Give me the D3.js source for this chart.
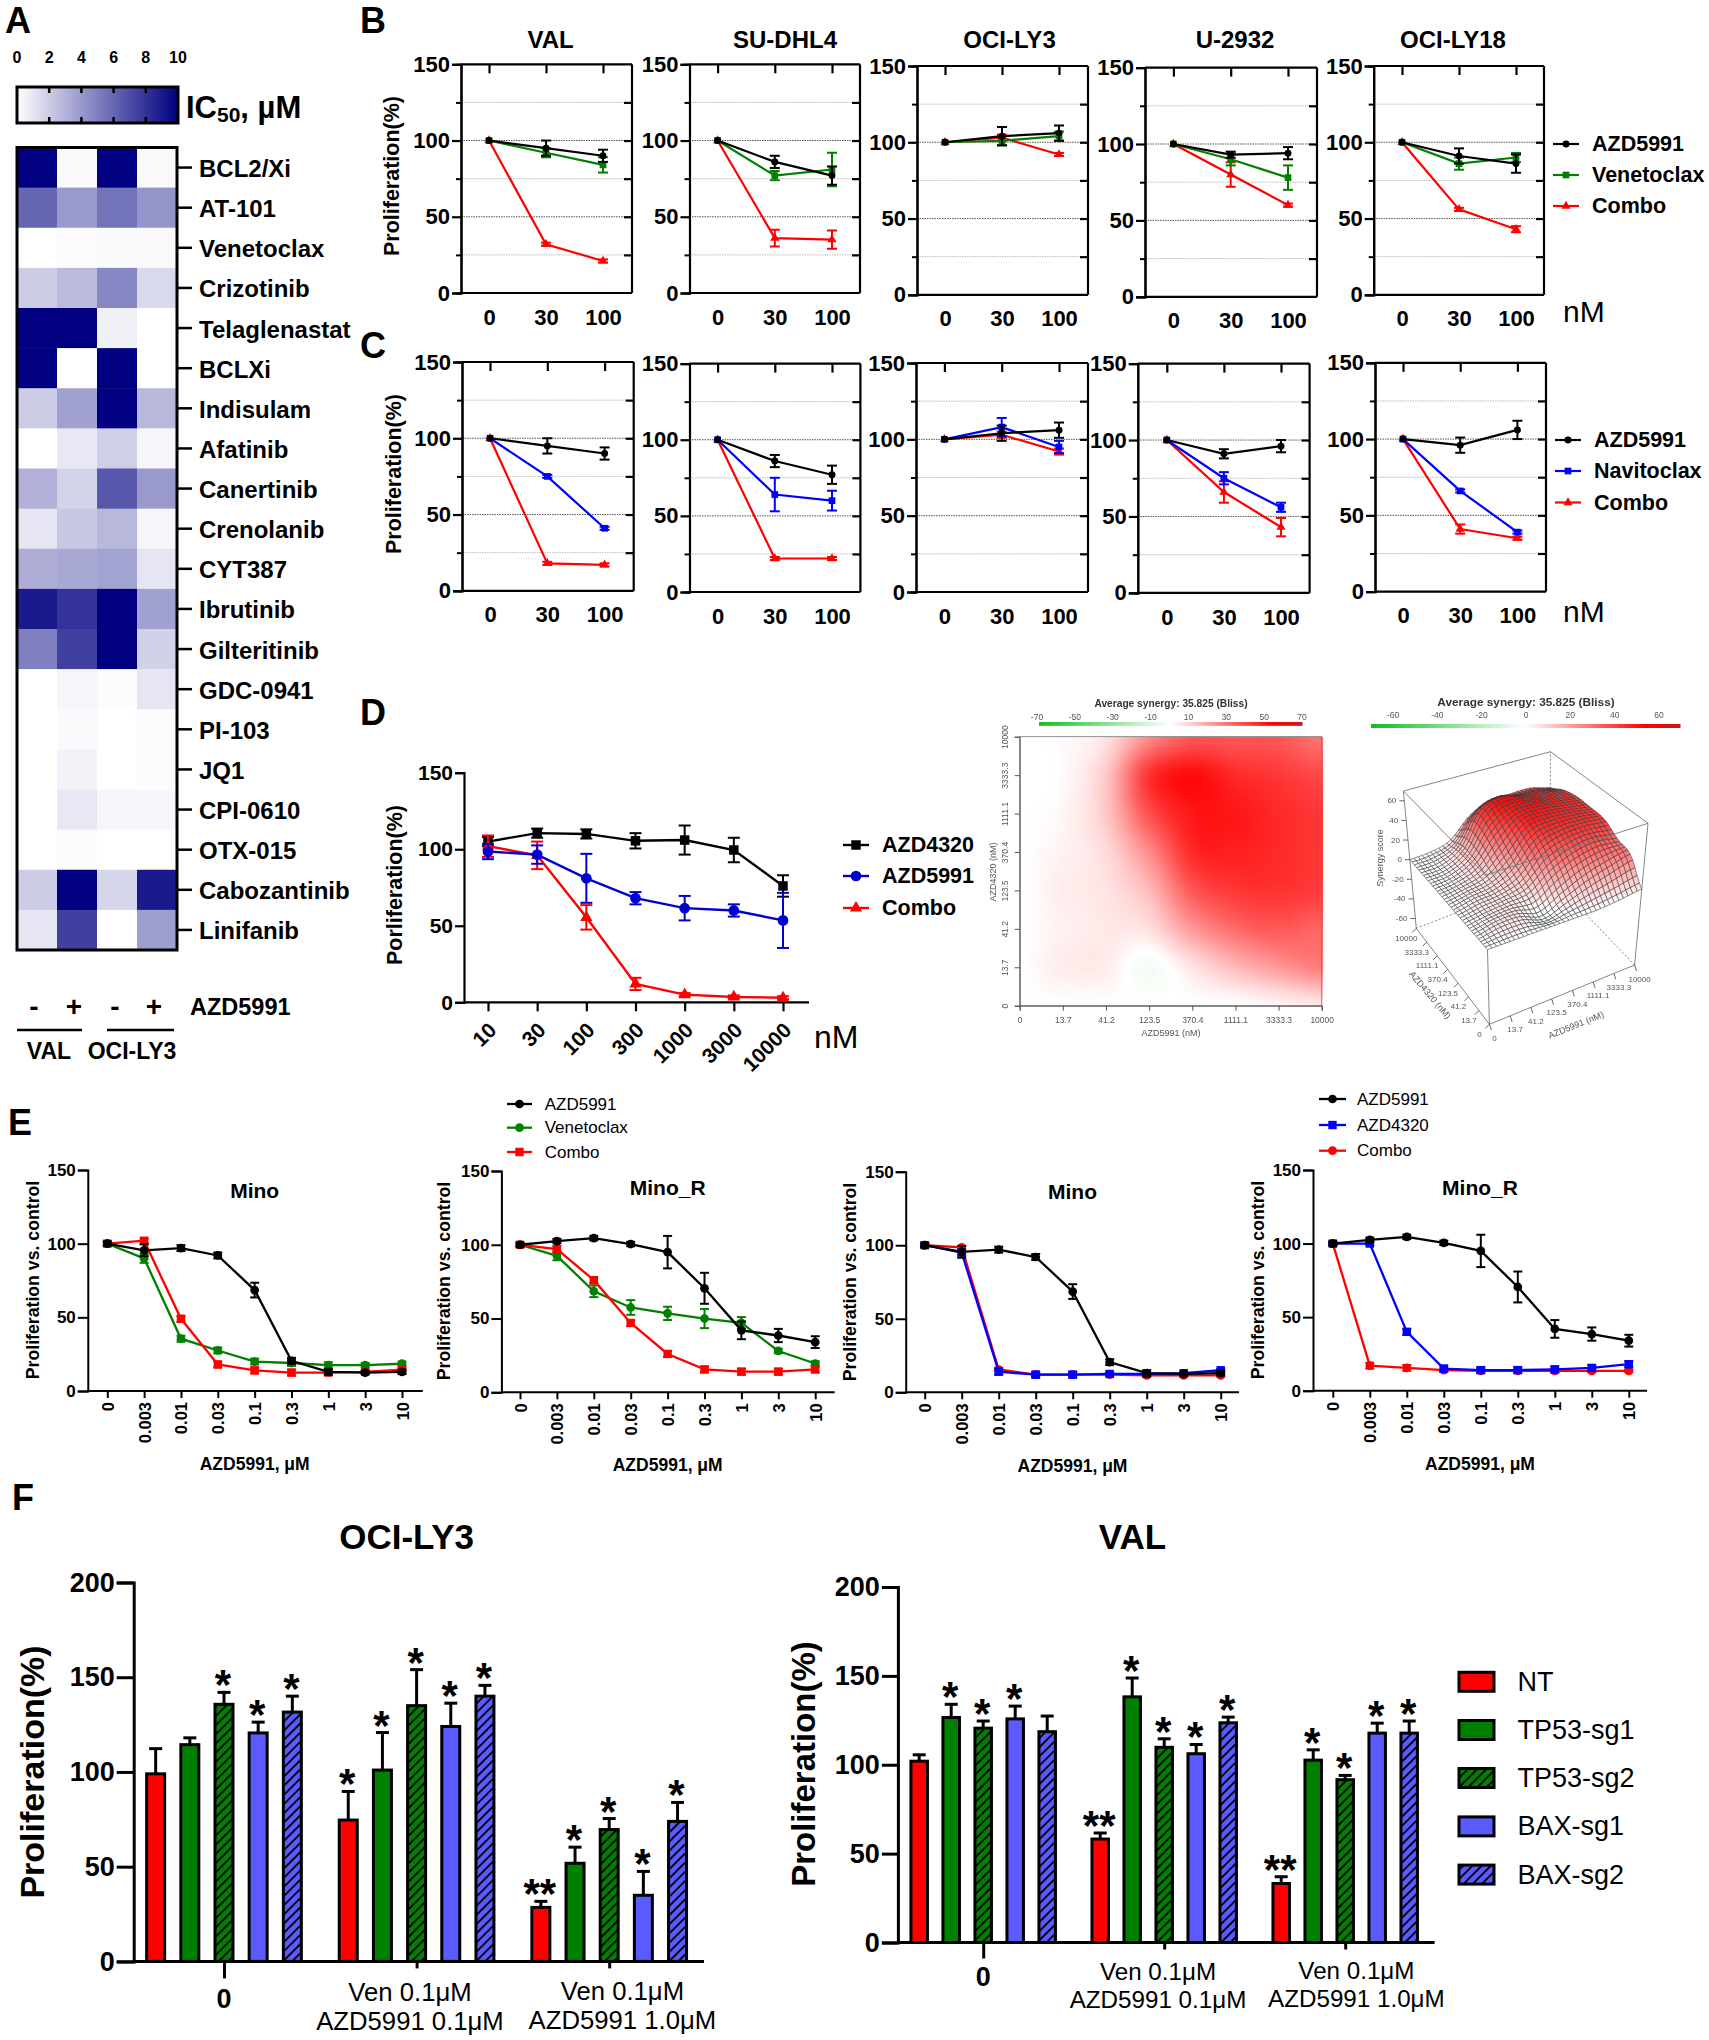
<!DOCTYPE html>
<html lang="en">
<head>
<meta charset="UTF-8">
<title>AZD5991 combination figure</title>
<script src="https://d3js.org/d3.v7.min.js"></script>
<style>
  body { margin: 0; background: #fff; }
  svg { display: block; font-family: "Liberation Sans", Arial, sans-serif; }
  .bold { font-weight: bold; }
</style>
</head>
<body>
<svg id="fig" width="1709" height="2040"></svg>
<script>
// ---- panel A
const drugs = ["BCL2/Xi","AT-101","Venetoclax","Crizotinib","Telaglenastat","BCLXi","Indisulam","Afatinib","Canertinib","Crenolanib","CYT387","Ibrutinib","Gilteritinib","GDC-0941","PI-103","JQ1","CPI-0610","OTX-015","Cabozantinib","Linifanib"];
const heatCols = ["VAL-","VAL+","OCI-","OCI+"];
const valMinus = [10,6,0,2,10,10,2,0,3.1,1,3.2,9,5,0,0,0,0,0,2,1];
const valPlus  = [0.2,4,0.1,2.7,10,0,3.7,0.9,1.7,2.2,3.4,8,7.5,0.4,0.2,0.5,0.9,0.1,10,7.5];
const ociMinus = [10,5.5,0.2,4.7,0.6,10,10,1.9,6.6,2.8,3.6,10,10,0.1,0,0,0.3,0,1.6,0];
const ociPlus  = [0.2,4.2,0.2,1.5,0,0,2.8,0.4,4,0.4,1,3.7,1.8,1,0.1,0.1,0.3,0,9,3.8];
const ic50Ticks = [0,2,4,6,8,10];

// ---- panels B and C, one row per cell line
const bcLines = ["VAL","SU-DHL4","OCI-LY3","U-2932","OCI-LY18"];
const nmDoses = ["0","30","100"];
const bAzd = [[100,95,90],[100,86,77],[100,104,106],[100,93,94],[100,91,86]];
const bAzdErr = [[0,5,4],[0,4,6],[0,6,5],[0,2,4],[0,5,6]];
const bVen = [[100,92,84],[100,77,81],[100,101,104],[100,90,78],[100,86,90]];
const bVenErr = [[0,3,5],[0,3,11],[0,3,3],[0,4,8],[0,4,3]];
const bCombo = [[100,32,21],[100,36,35],[100,103,92],[100,80,60],[100,56,43]];
const bComboErr = [[0,1,1],[0,5.5,6],[0,2,1],[0,8,1],[0,1,2]];
const cAzd = [[100,95,90],[100,86,77],[100,104,106],[100,91,96],[100,96,106]];
const cAzdErr = [[0,5,4],[0,4,6],[0,5,5],[0,3,4],[0,5,6]];
const cNav = [[100,75,41],[100,64,60],[100,108,95],[100,75,56],[100,66,39]];
const cNavErr = [[0,1,1],[0,11,6.5],[0,6,4],[0,4,3],[0,1,1]];
const cCombo = [[100,18,17],[100,22,22],[100,103,92],[100,66,43],[100,41,35]];
const cComboErr = [[0,1,1],[0,1,1],[0,2,2],[0,7,6],[0,3,1]];

// ---- panel D
const dDoses = ["10","30","100","300","1000","3000","10000"];
const dAzd4320 = [105,110.5,110,105.5,106,99.5,76];
const dAzd4320Err = [3,3,3,5,9.5,8,7];
const dAzd5991 = [98.5,96.5,81,68,61.5,60,53.5];
const dAzd5991Err = [5,6,16,4,8,4,18];
const dCombo = [102,96,55.5,12,5,3.5,3];
const dComboErr = [7,9,8,4,1,1,1];

// synergy map read at the dose grid, first row is AZD4320 = 0, first column AZD5991 = 0
const synergyDoses = ["0","13.7","41.2","123.5","370.4","1111.1","3333.3","10000"];
const synergyGrid = [
  [0,0,0,0,0,0,2,5],
  [0,4,4,-3,6,15,22,28],
  [0,3,5,7,22,32,36,33],
  [0,4,6,15,36,43,44,42],
  [0,3,8,25,46,48,46,43],
  [0,2,12,38,50,50,46,43],
  [0,1,12,44,52,46,43,39],
  [0,1,6,25,36,36,36,30]
];
const synergyBarLeft = [-70,-50,-30,-10,10,30,50,70];
const synergyBarRight = [-60,-40,-20,0,20,40,60];
const synergyZ = [-60,-40,-20,0,20,40,60];

// ---- panel E
const uMDoses = ["0","0.003","0.01","0.03","0.1","0.3","1","3","10"];
const eMinoAzd = [100,95.5,97,92,68.5,20.5,13,12.5,13];
const eMinoAzdErr = [1.5,4,2,2,5,2,2,1,1.5];
const eMinoVen = [100,90,35.5,27.5,20,19,17.5,17.5,18.5];
const eMinoVenErr = [1,3,2,2,2,2,2,1.5,1.5];
const eMinoCombo = [100,102,49,18,14,12.5,12.5,13,14.5];
const eMinoComboErr = [1.5,1.5,2,2,2,2,1,1,1];
const eMinoRAzd = [100,102.5,104.5,100.5,95,70.5,42,38.5,34];
const eMinoRAzdErr = [1.5,1.5,1.5,1.5,11,10.5,6,4.5,4];
const eMinoRVen = [100,92.5,68.5,57.5,53.5,50,47,28,19.5];
const eMinoRVenErr = [1,3,4,5,4.5,6.5,4,1.5,1.5];
const eMinoRCombo = [100,97,76,47,26,15.5,14,14,15.5];
const eMinoRComboErr = [1,2,2,2,2,2,2,2,2];
const eMino4320 = [100,95,14,12,12,12.5,12.5,13,15];
const eMino4320Err = [1,2,2,2,2,1,1,1,1];
const eMino4320Combo = [100,98.5,15.5,12,12,12,11.5,11.5,11.5];
const eMino4320ComboErr = [1,1,1,1,1,1,1,1,1];
const eMinoR4320 = [100,100,40,15,14,14,14.5,15.5,18];
const eMinoR4320Err = [1,1,2,2,2,2,2,2,2];
const eMinoR4320Combo = [100,17,15.5,14,13.5,13.5,13.5,13.5,13.5];
const eMinoR4320ComboErr = [1,2,2,1,1,1,1,1,1];

// ---- panel F
const sgGroups = ["0","Ven01","Ven10"];
const sgNames = ["NT","TP53-sg1","TP53-sg2","BAX-sg1","BAX-sg2"];
const ociBars = [[99,114.4,135.7,120.6,131.6],[74.6,101,135,124,140],[28.5,51.8,69.6,34.9,73.9]];
const ociTops = [[112.3,118,142,126.3,140],[89.7,120.8,154,136.3,145.7],[31.7,60.3,75.4,47.5,83.9]];
const ociStars = [["","","*","*","*"],["*","*","*","*","*"],["**","*","*","*","*"]];
const valBars = [[102,126.6,120.6,125.8,118.6],[58.2,138.2,109.8,106.2,123.6],[33.2,102.6,91.6,117.8,117.8]];
const valTops = [[105.6,134,124.6,133,127.4],[61.6,148.8,114.6,111.4,126.8],[37,108.4,94,123.4,124.6]];
const valStars = [["","*","*","*",""],["**","*","*","*","*"],["**","*","*","*","*"]];

const BLACK = "#000", GREEN = "#008000", RED = "#ff0000", BLUE = "#0000ff", BAXBLUE = "#5a5aff";

const svg = d3.select("#fig");

function txt(g, x, y, s, size, opts) {
  opts = opts || {};
  const t = g.append("text")
    .attr("x", x).attr("y", y)
    .attr("font-size", size)
    .attr("dominant-baseline", "central")
    .attr("text-anchor", opts.anchor || "start")
    .attr("fill", opts.fill || "#000")
    .text(s);
  if (opts.bold) t.attr("font-weight", "bold");
  if (opts.rotate !== undefined) {
    t.attr("transform", "rotate(" + opts.rotate + " " + x + " " + y + ")");
  }
  return t;
}

function styleAxis(sel, width, fontSize) {
  sel.selectAll("path,line").attr("stroke", "#000").attr("stroke-width", width);
  sel.selectAll("text").attr("font-size", fontSize).attr("font-weight", "bold")
    .attr("font-family", "Liberation Sans").attr("fill", "#000");
}

// line + error bars + markers for one series
function drawSeries(g, x, y, labels, vals, errs, s) {
  const line = d3.line().x((d, i) => x(labels[i])).y(d => y(d));
  g.append("path").attr("d", line(vals)).attr("fill", "none")
    .attr("stroke", s.color).attr("stroke-width", s.lw);
  labels.forEach((lab, i) => {
    if (!errs[i]) return;
    const cx = x(lab), hi = y(vals[i] + errs[i]), lo = y(vals[i] - errs[i]);
    [[cx, hi, cx, lo], [cx - s.cap, hi, cx + s.cap, hi], [cx - s.cap, lo, cx + s.cap, lo]].forEach(p => {
      g.append("line").attr("x1", p[0]).attr("y1", p[1]).attr("x2", p[2]).attr("y2", p[3])
        .attr("stroke", s.color).attr("stroke-width", s.elw || 2);
    });
  });
  g.selectAll(null).data(vals).enter().append("path")
    .attr("d", d3.symbol().type(s.symbol).size(s.size))
    .attr("transform", (d, i) => "translate(" + x(labels[i]) + "," + y(d) + ")")
    .attr("fill", s.color);
}

function legendRows(g, rows, lx0, lx1, ys, tx, size, bold) {
  rows.forEach((r, i) => {
    g.append("line").attr("x1", lx0).attr("x2", lx1).attr("y1", ys[i]).attr("y2", ys[i])
      .attr("stroke", r.color).attr("stroke-width", r.lw);
    g.append("path").attr("d", d3.symbol().type(r.symbol).size(r.size))
      .attr("transform", "translate(" + (lx0 + lx1) / 2 + "," + ys[i] + ")").attr("fill", r.color);
    txt(g, tx, ys[i], r.name, size, { bold: bold });
  });
}

// ---- panel A
(function () {
  const g = svg.append("g");
  txt(g, 5, 20, "A", 36, { bold: true });
  const cb = d3.scaleLinear().domain([0, 10]).range([17, 178]);
  const heatColor = d3.scaleLinear().domain([0, 10]).range(["#ffffff", "#000080"]);
  const grad = svg.append("defs").append("linearGradient").attr("id", "icGrad");
  grad.append("stop").attr("offset", "0%").attr("stop-color", heatColor(0));
  grad.append("stop").attr("offset", "100%").attr("stop-color", heatColor(10));
  g.append("rect").attr("x", 17).attr("y", 87).attr("width", 161).attr("height", 36)
    .attr("fill", "url(#icGrad)").attr("stroke", "#000").attr("stroke-width", 3);
  ic50Ticks.forEach(t => {
    txt(g, cb(t), 57, t, 16, { bold: true, anchor: "middle" });
    if (t > 0 && t < 10) {
      g.append("line").attr("x1", cb(t)).attr("x2", cb(t)).attr("y1", 87).attr("y2", 93).attr("stroke", "#000").attr("stroke-width", 2.5);
      g.append("line").attr("x1", cb(t)).attr("x2", cb(t)).attr("y1", 117).attr("y2", 123).attr("stroke", "#000").attr("stroke-width", 2.5);
    }
  });
  const ic = txt(g, 186, 107, "IC", 31, { bold: true });
  ic.append("tspan").attr("font-size", 21).attr("dy", 7).text("50");
  ic.append("tspan").attr("dy", -7).text(", µM");

  const xb = d3.scaleBand().domain(heatCols).range([17, 177]);
  const yb = d3.scaleBand().domain(drugs).range([147.5, 950]);
  [valMinus, valPlus, ociMinus, ociPlus].forEach((col, c) => {
    g.selectAll(null).data(col).enter().append("rect")
      .attr("x", xb(heatCols[c])).attr("width", xb.bandwidth() + 0.5)
      .attr("y", (d, i) => yb(drugs[i])).attr("height", yb.bandwidth() + 0.5)
      .attr("fill", d => heatColor(d));
  });
  g.append("rect").attr("x", 17).attr("y", 147.5).attr("width", 160).attr("height", 802.5)
    .attr("fill", "none").attr("stroke", "#000").attr("stroke-width", 3);
  drugs.forEach(d => {
    const y0 = yb(d) + yb.bandwidth() / 2;
    g.append("line").attr("x1", 178).attr("x2", 192).attr("y1", y0).attr("y2", y0).attr("stroke", "#000").attr("stroke-width", 2.5);
    txt(g, 199, y0 + 1, d, 24, { bold: true });
  });
  ["-", "+", "-", "+"].forEach((s, i) => {
    txt(g, [34, 74, 115, 154][i], 1006, s, 28, { bold: true, anchor: "middle" });
  });
  txt(g, 190, 1007, "AZD5991", 23.5, { bold: true });
  [[17, 82], [107, 174]].forEach(p => {
    g.append("line").attr("x1", p[0]).attr("x2", p[1]).attr("y1", 1030).attr("y2", 1030).attr("stroke", "#000").attr("stroke-width", 2.5);
  });
  txt(g, 49, 1051, "VAL", 23, { bold: true, anchor: "middle" });
  txt(g, 132, 1051, "OCI-LY3", 23, { bold: true, anchor: "middle" });
})();

// ---- panels B, C
function framedPanel(f, series) {
  const g = svg.append("g");
  const x = d3.scalePoint().domain(nmDoses).range([f.p0, f.p2]);
  const y = d3.scaleLinear().domain([0, 150]).range([f.bottom, f.top]);
  [25, 50, 75, 100, 125].forEach(v => {
    g.append("line").attr("x1", f.left).attr("x2", f.right).attr("y1", y(v)).attr("y2", y(v))
      .attr("stroke", v % 50 ? "#bbb" : "#555").attr("stroke-width", 1).attr("stroke-dasharray", "1.5,1");
  });
  const left = g.append("g").attr("transform", "translate(" + f.left + ",0)")
    .call(d3.axisLeft(y).tickValues([0, 50, 100, 150]).tickSize(9).tickPadding(2));
  styleAxis(left, 2.2, 22);
  const minor = g.append("g").attr("transform", "translate(" + f.left + ",0)")
    .call(d3.axisLeft(y).tickValues([25, 75, 125]).tickSize(5).tickFormat(""));
  styleAxis(minor, 2, 1);
  const right = g.append("g").attr("transform", "translate(" + f.right + ",0)")
    .call(d3.axisLeft(y).tickValues([25, 50, 75, 100, 125]).tickSize(8).tickFormat(""));
  styleAxis(right, 2.2, 1);
  right.select(".domain").attr("d", "M0," + f.top + "V" + f.bottom);
  const bottom = g.append("g").attr("transform", "translate(0," + f.bottom + ")")
    .call(d3.axisBottom(x).tickSize(0).tickPadding(16));
  styleAxis(bottom, 2.2, 22);
  bottom.select(".domain").attr("d", "M" + f.left + ",0H" + f.right);
  const top = g.append("g").attr("transform", "translate(0," + f.top + ")")
    .call(d3.axisBottom(x).tickSize(9).tickFormat(""));
  styleAxis(top, 2.2, 1);
  top.select(".domain").attr("d", "M" + f.left + ",0H" + f.right);
  series.forEach(s => drawSeries(g, x, y, nmDoses, s.vals, s.errs, s));
}

const sAzd = { color: BLACK, symbol: d3.symbolCircle, size: 38, lw: 2.2, cap: 5 };
const sVen = { color: GREEN, symbol: d3.symbolSquare, size: 45, lw: 2.2, cap: 5 };
const sNav = { color: BLUE, symbol: d3.symbolSquare, size: 45, lw: 2.2, cap: 5 };
const sCombo = { color: RED, symbol: d3.symbolTriangle, size: 36, lw: 2.2, cap: 5 };

const bFrames = [
  { left: 461, right: 632, top: 64.3, bottom: 293, p0: 489, p2: 603 },
  { left: 689.5, right: 860, top: 64.3, bottom: 293, p0: 717.6, p2: 832 },
  { left: 917, right: 1088, top: 66, bottom: 294.8, p0: 945, p2: 1059 },
  { left: 1145, right: 1317, top: 67.6, bottom: 296.8, p0: 1173.4, p2: 1288 },
  { left: 1373.7, right: 1544, top: 66, bottom: 294.8, p0: 1402, p2: 1516 }
];
const cFrames = [
  { left: 462, right: 633.7, top: 362, bottom: 590.8, p0: 490, p2: 604.6 },
  { left: 689.5, right: 860.4, top: 363.6, bottom: 592, p0: 717.6, p2: 832 },
  { left: 916, right: 1088, top: 363, bottom: 592, p0: 944.4, p2: 1059 },
  { left: 1137.8, right: 1309.6, top: 363.6, bottom: 592.9, p0: 1166.8, p2: 1281 },
  { left: 1375, right: 1546, top: 362.8, bottom: 591.6, p0: 1403, p2: 1517.4 }
];
const titleX = [550.6, 785, 1009.5, 1235, 1453];

bFrames.forEach((f, i) => {
  framedPanel(f, [
    Object.assign({ vals: bCombo[i], errs: bComboErr[i] }, sCombo),
    Object.assign({ vals: bVen[i], errs: bVenErr[i] }, sVen),
    Object.assign({ vals: bAzd[i], errs: bAzdErr[i] }, sAzd)
  ]);
  txt(svg, titleX[i], 39, bcLines[i], 24, { bold: true, anchor: "middle" });
});
cFrames.forEach((f, i) => {
  framedPanel(f, [
    Object.assign({ vals: cCombo[i], errs: cComboErr[i] }, sCombo),
    Object.assign({ vals: cNav[i], errs: cNavErr[i] }, sNav),
    Object.assign({ vals: cAzd[i], errs: cAzdErr[i] }, sAzd)
  ]);
});
txt(svg, 360, 20, "B", 36, { bold: true });
txt(svg, 360, 345, "C", 36, { bold: true });
txt(svg, 392, 176, "Proliferation(%)", 21.5, { bold: true, anchor: "middle", rotate: -90 });
txt(svg, 394, 474, "Proliferation(%)", 21.5, { bold: true, anchor: "middle", rotate: -90 });
txt(svg, 1563, 311, "nM", 30);
txt(svg, 1563, 611, "nM", 30);
legendRows(svg, [
  Object.assign({ name: "AZD5991" }, sAzd),
  Object.assign({ name: "Venetoclax" }, sVen),
  Object.assign({ name: "Combo" }, sCombo)
], 1553, 1579, [144, 175, 206], 1592, 21.5, true);
legendRows(svg, [
  Object.assign({ name: "AZD5991" }, sAzd),
  Object.assign({ name: "Navitoclax" }, sNav),
  Object.assign({ name: "Combo" }, sCombo)
], 1555, 1581, [440, 471, 502.5], 1594, 21.5, true);

// ---- panel D, dose response
(function () {
  const g = svg.append("g");
  txt(g, 360, 712, "D", 36, { bold: true });
  const x = d3.scalePoint().domain(dDoses).range([488, 783]);
  const y = d3.scaleLinear().domain([0, 150]).range([1002.3, 772.7]);
  const ax = g.append("g").attr("transform", "translate(464,0)")
    .call(d3.axisLeft(y).tickValues([0, 50, 100, 150]).tickSize(9).tickPadding(2));
  styleAxis(ax, 2.2, 21);
  const bx = g.append("g").attr("transform", "translate(0,1002.3)")
    .call(d3.axisBottom(x).tickSize(9));
  styleAxis(bx, 2.2, 21);
  bx.select(".domain").attr("d", "M464,0H809");
  bx.selectAll("text").attr("text-anchor", "end").attr("dy", 0).attr("y", 0)
    .attr("transform", "translate(4,24) rotate(-45)").attr("dominant-baseline", "central");
  const st4320 = { color: BLACK, symbol: d3.symbolSquare, size: 90, lw: 2.4, cap: 6 };
  const st5991 = { color: "#0000d0", symbol: d3.symbolCircle, size: 90, lw: 2.4, cap: 6 };
  const stCombo = { color: RED, symbol: d3.symbolTriangle, size: 65, lw: 2.4, cap: 6 };
  drawSeries(g, x, y, dDoses, dAzd4320, dAzd4320Err, st4320);
  drawSeries(g, x, y, dDoses, dCombo, dComboErr, stCombo);
  drawSeries(g, x, y, dDoses, dAzd5991, dAzd5991Err, st5991);
  txt(g, 395, 885, "Porliferation(%)", 21.5, { bold: true, anchor: "middle", rotate: -90 });
  txt(g, 814, 1037, "nM", 32);
  legendRows(g, [
    Object.assign({ name: "AZD4320" }, st4320),
    Object.assign({ name: "AZD5991" }, st5991),
    Object.assign({ name: "Combo" }, stCombo)
  ], 843, 869, [845, 876, 908], 882, 21.5, true);
})();

// ---- panel D, synergy plots. The grid is smoothed for drawing, as the original software does
function cr(a, b, c, d, t) {
  return 0.5 * (2 * b + (c - a) * t + (2 * a - 5 * b + 4 * c - d) * t * t + (3 * b - a - 3 * c + d) * t * t * t);
}
function synergyAt(u, v) {
  const n = synergyGrid.length - 1;
  const clamp = k => Math.max(0, Math.min(n, k));
  const i0 = Math.min(n - 1, Math.floor(u)), j0 = Math.min(n - 1, Math.floor(v));
  const tu = u - i0, tv = v - j0;
  const row = j => {
    const r = synergyGrid[clamp(j)];
    return cr(r[clamp(i0 - 1)], r[clamp(i0)], r[clamp(i0 + 1)], r[clamp(i0 + 2)], tu);
  };
  return cr(row(j0 - 1), row(j0), row(j0 + 1), row(j0 + 2), tv);
}
const synergyColor = d3.scaleLinear().domain([-70, 0, 55, 70])
  .range(["#10c020", "#ffffff", "#ff0000", "#d01515"]).clamp(true);

function synergyBar(g, x0, x1, y0, h, ticks, tx0, tx1, labelY) {
  const c = d3.scaleLinear().domain([0, 60]).range([x0, x1]);
  g.selectAll(null).data(d3.range(60)).enter().append("rect")
    .attr("x", d => c(d)).attr("width", (x1 - x0) / 60 + 0.5).attr("y", y0).attr("height", h)
    .attr("fill", d => synergyColor(-70 + 140 * d / 59));
  const t = d3.scaleLinear().domain([ticks[0], ticks[ticks.length - 1]]).range([tx0, tx1]);
  ticks.forEach(v => txt(g, t(v), labelY, v, 8.5, { anchor: "middle", fill: "#555" }));
}

(function () {
  const g = svg.append("g").style("filter", "blur(0.35px)");
  const idx = d3.scaleLinear().domain([0, 7]);
  const xs = idx.copy().range([1019.7, 1321.7]);
  const ys = idx.copy().range([1005.7, 736.7]);
  const cell = 3;
  const cells = [];
  for (let px = 1019.7; px < 1321.7; px += cell) {
    for (let py = 736.7; py < 1005.7; py += cell) cells.push([px, py]);
  }
  g.selectAll(null).data(cells).enter().append("rect")
    .attr("x", d => d[0]).attr("y", d => d[1]).attr("width", cell + 0.4).attr("height", cell + 0.4)
    .attr("fill", d => synergyColor(synergyAt(xs.invert(d[0] + cell / 2), ys.invert(d[1] + cell / 2))));
  g.append("rect").attr("x", 1019.7).attr("y", 736.7).attr("width", 302).attr("height", 269)
    .attr("fill", "none").attr("stroke", "#777").attr("stroke-width", 0.8);
  const xa = d3.scalePoint().domain(synergyDoses).range([1019.7, 1321.7]);
  const ya = d3.scalePoint().domain(synergyDoses).range([1005.7, 736.7]);
  const bx = g.append("g").attr("transform", "translate(0,1005.7)").call(d3.axisBottom(xa).tickSize(5).tickPadding(6));
  bx.selectAll("line,path").attr("stroke", "#555");
  bx.selectAll("text").attr("font-size", 8.5).attr("fill", "#555").attr("font-family", "Liberation Sans");
  const ay = g.append("g").attr("transform", "translate(1019.7,0)").call(d3.axisLeft(ya).tickSize(5).tickPadding(6));
  ay.selectAll("line,path").attr("stroke", "#555");
  ay.selectAll("text").attr("font-size", 8.5).attr("fill", "#555").attr("font-family", "Liberation Sans")
    .attr("text-anchor", "middle").attr("dy", 0).attr("x", -15).attr("y", 0)
    .attr("dominant-baseline", "central")
    .attr("transform", "rotate(-90 -15 0)");
  txt(g, 1171, 1033, "AZD5991 (nM)", 9, { anchor: "middle", fill: "#555" });
  txt(g, 992.5, 872, "AZD4320 (nM)", 9, { anchor: "middle", fill: "#555", rotate: -90 });
  txt(g, 1171, 703.5, "Average synergy: 35.825 (Bliss)", 10.2, { anchor: "middle", bold: true, fill: "#333" });
  synergyBar(g, 1039, 1302, 722, 3.8, synergyBarLeft, 1037, 1302, 716.7);
})();

(function () {
  const g = svg.append("g").style("filter", "blur(0.35px)");
  // corners of the plot box on the page: floor F, top T, first digit AZD5991, second AZD4320
  const F00 = [1489.4, 1024.3], F10 = [1634.6, 965], F01 = [1416.3, 928.3], F11 = [1550, 876.7];
  const T00 = [1485.6, 875], T10 = [1648, 823.3], T01 = [1403.4, 791], T11 = [1550.5, 751.7];
  const mix = (a, b, t) => [a[0] + (b[0] - a[0]) * t, a[1] + (b[1] - a[1]) * t];
  function proj(u, v, w) {
    const fl = mix(mix(F00, F10, u), mix(F01, F11, u), v);
    const tp = mix(mix(T00, T10, u), mix(T01, T11, u), v);
    return mix(fl, tp, w);
  }
  const zs = d3.scaleLinear().domain([-70, 70]).range([0, 1]);
  const seg = (a, b, dash, col) => g.append("line").attr("x1", a[0]).attr("y1", a[1]).attr("x2", b[0]).attr("y2", b[1])
    .attr("stroke", col || "#777").attr("stroke-width", 0.9).attr("stroke-dasharray", dash || null);

  seg(F01, F11, "2,2"); seg(F10, F11, "2,2"); seg(F11, T11, "2,2");
  seg(T01, T11); seg(T11, T10); seg(F01, T01); seg(F10, T10);

  const n = 34;
  const quads = [];
  for (let a = n - 1; a >= 0; a--) {
    for (let b = n - 1; b >= 0; b--) quads.push([a, b]);
  }
  quads.sort((p, q) => (q[0] + q[1]) - (p[0] + p[1]));
  const zAt = (a, b) => synergyAt(a / n * 7, b / n * 7);
  const pt = (a, b) => proj(a / n, b / n, zs(zAt(a, b)));
  g.selectAll(null).data(quads).enter().append("path")
    .attr("d", d => d3.line()([pt(d[0], d[1]), pt(d[0] + 1, d[1]), pt(d[0] + 1, d[1] + 1), pt(d[0], d[1] + 1)]) + "Z")
    .attr("fill", d => synergyColor(zAt(d[0] + 0.5, d[1] + 0.5)))
    .attr("stroke", "#333").attr("stroke-width", 0.6).attr("stroke-opacity", 0.9);

  seg(T01, T00); seg(T00, T10);
  seg(F00, F10); seg(F00, F01); seg(F00, proj(0, 0, zs(0)));

  synergyZ.forEach(z => {
    const p = proj(0, 1, zs(z));
    seg(p, [p[0] - 5, p[1]], null, "#555");
    txt(g, p[0] - 8, p[1], z, 8, { anchor: "end", fill: "#555" });
  });
  synergyDoses.forEach((d, i) => {
    const p = proj(i / 7, 0, 0), q = proj(0, i / 7, 0);
    seg(p, [p[0] + 2, p[1] + 6], null, "#555");
    seg(q, [q[0] - 4, q[1] + 4], null, "#555");
    txt(g, p[0] + 5, p[1] + 14, d, 8, { anchor: "middle", fill: "#555" });
    txt(g, q[0] - 10, q[1] + 10, d, 8, { anchor: "middle", fill: "#555" });
  });
  txt(g, 1380, 858, "Synergy score", 9, { anchor: "middle", fill: "#555", rotate: -90 });
  txt(g, 1430, 995, "AZD4320 (nM)", 9, { anchor: "middle", fill: "#555", rotate: 50 });
  txt(g, 1576, 1025, "AZD5991 (nM)", 9, { anchor: "middle", fill: "#555", rotate: -22 });
  txt(g, 1526, 702, "Average synergy: 35.825 (Bliss)", 11.8, { anchor: "middle", bold: true, fill: "#333" });
  synergyBar(g, 1371, 1680, 724, 4, synergyBarRight, 1393, 1659, 715);
})();

// ---- panel E
function openPanel(p, series) {
  const g = svg.append("g");
  const x = d3.scalePoint().domain(uMDoses).range([p.p0, p.p8]);
  const y = d3.scaleLinear().domain([0, 150]).range([p.y0, p.y150]);
  const ax = g.append("g").attr("transform", "translate(" + p.axisX + ",0)")
    .call(d3.axisLeft(y).tickValues([0, 50, 100, 150]).tickSize(10).tickPadding(2));
  styleAxis(ax, 2, 17);
  const bx = g.append("g").attr("transform", "translate(0," + p.y0 + ")")
    .call(d3.axisBottom(x).tickSize(7));
  styleAxis(bx, 2, 16.5);
  bx.select(".domain").attr("d", "M" + p.axisX + ",0H" + p.end);
  bx.selectAll("text").attr("text-anchor", "end").attr("dy", 0).attr("y", 0)
    .attr("dominant-baseline", "central").attr("transform", "translate(0,11) rotate(-90)");
  series.forEach(s => drawSeries(g, x, y, uMDoses, s.vals, s.errs, s));
  txt(g, p.labelX, p.labelCy, "Proliferation vs. control", 17.7, { bold: true, anchor: "middle", rotate: -90 });
  txt(g, p.cx, p.titleY, p.title, 21, { bold: true, anchor: "middle" });
  txt(g, p.cx, p.xlabY, "AZD5991, μM", 17.5, { bold: true, anchor: "middle" });
}
const eAzd = { color: BLACK, symbol: d3.symbolCircle, size: 60, lw: 2.3, cap: 4.5 };
const eVen = { color: GREEN, symbol: d3.symbolCircle, size: 60, lw: 2.3, cap: 4.5 };
const eComboSq = { color: RED, symbol: d3.symbolSquare, size: 70, lw: 2.3, cap: 4.5 };
const e4320 = { color: BLUE, symbol: d3.symbolSquare, size: 70, lw: 2.3, cap: 4.5 };
const eComboC = { color: RED, symbol: d3.symbolCircle, size: 60, lw: 2.3, cap: 4.5 };

openPanel({ axisX: 87.8, y0: 1391, y150: 1170, end: 422.8, p0: 107.3, p8: 402, labelX: 32.5, labelCy: 1280, cx: 254.7, titleY: 1190, xlabY: 1464, title: "Mino" }, [
  Object.assign({ vals: eMinoVen, errs: eMinoVenErr }, eVen),
  Object.assign({ vals: eMinoCombo, errs: eMinoComboErr }, eComboSq),
  Object.assign({ vals: eMinoAzd, errs: eMinoAzdErr }, eAzd)
]);
openPanel({ axisX: 501.4, y0: 1392.3, y150: 1171, end: 834.7, p0: 520, p8: 815.2, labelX: 444.4, labelCy: 1281, cx: 667.7, titleY: 1187, xlabY: 1465, title: "Mino_R" }, [
  Object.assign({ vals: eMinoRVen, errs: eMinoRVenErr }, eVen),
  Object.assign({ vals: eMinoRCombo, errs: eMinoRComboErr }, eComboSq),
  Object.assign({ vals: eMinoRAzd, errs: eMinoRAzdErr }, eAzd)
]);
openPanel({ axisX: 905.7, y0: 1392.3, y150: 1171.7, end: 1239, p0: 924.7, p8: 1220.7, labelX: 849.6, labelCy: 1282, cx: 1072.5, titleY: 1191, xlabY: 1465.7, title: "Mino" }, [
  Object.assign({ vals: eMino4320Combo, errs: eMino4320ComboErr }, eComboC),
  Object.assign({ vals: eMino4320, errs: eMino4320Err }, e4320),
  Object.assign({ vals: eMinoAzd, errs: eMinoAzdErr }, eAzd)
]);
openPanel({ axisX: 1313, y0: 1390.7, y150: 1170, end: 1647, p0: 1332.8, p8: 1628.8, labelX: 1257.7, labelCy: 1280, cx: 1480, titleY: 1187, xlabY: 1464, title: "Mino_R" }, [
  Object.assign({ vals: eMinoR4320Combo, errs: eMinoR4320ComboErr }, eComboC),
  Object.assign({ vals: eMinoR4320, errs: eMinoR4320Err }, e4320),
  Object.assign({ vals: eMinoRAzd, errs: eMinoRAzdErr }, eAzd)
]);
txt(svg, 8, 1122, "E", 36, { bold: true });
legendRows(svg, [
  Object.assign({ name: "AZD5991" }, eAzd),
  Object.assign({ name: "Venetoclax" }, eVen),
  Object.assign({ name: "Combo" }, eComboSq)
], 507, 532, [1104, 1127.7, 1152], 544.7, 17);
legendRows(svg, [
  Object.assign({ name: "AZD5991" }, eAzd),
  Object.assign({ name: "AZD4320" }, e4320),
  Object.assign({ name: "Combo" }, eComboC)
], 1319, 1346, [1099, 1125, 1150.7], 1357, 17);

// ---- panel F
const defs = svg.append("defs");
function hatch(id, bg) {
  const p = defs.append("pattern").attr("id", id).attr("patternUnits", "userSpaceOnUse")
    .attr("width", 6.5).attr("height", 6.5).attr("patternTransform", "rotate(45)");
  p.append("rect").attr("width", 6.5).attr("height", 6.5).attr("fill", bg);
  p.append("line").attr("x1", 1).attr("x2", 1).attr("y1", 0).attr("y2", 6.5).attr("stroke", "#000").attr("stroke-width", 1.8);
}
hatch("hatchGreen", GREEN);
hatch("hatchBlue", BAXBLUE);
const barFills = [RED, GREEN, "url(#hatchGreen)", BAXBLUE, "url(#hatchBlue)"];

function barPanel(p, bars, tops, stars) {
  const g = svg.append("g");
  const y = d3.scaleLinear().domain([0, 200]).range([p.y0, p.y200]);
  const gx = d3.scalePoint().domain(sgGroups).range([p.g0, p.g2]);
  const bx = d3.scalePoint().domain(sgNames).range([-2 * p.step, 2 * p.step]);
  sgGroups.forEach((grp, gi) => {
    sgNames.forEach((nm, bi) => {
      const cx = gx(grp) + bx(nm);
      g.append("line").attr("x1", cx).attr("x2", cx).attr("y1", y(bars[gi][bi])).attr("y2", y(tops[gi][bi])).attr("stroke", "#000").attr("stroke-width", 3);
      g.append("line").attr("x1", cx - 6.5).attr("x2", cx + 6.5).attr("y1", y(tops[gi][bi])).attr("y2", y(tops[gi][bi])).attr("stroke", "#000").attr("stroke-width", 3);
      g.append("rect").attr("x", cx - p.bw / 2).attr("width", p.bw).attr("y", y(bars[gi][bi])).attr("height", p.y0 - y(bars[gi][bi]))
        .attr("fill", barFills[bi]).attr("stroke", "#000").attr("stroke-width", 3);
      if (stars[gi][bi]) {
        g.append("text").attr("x", cx - 1).attr("y", y(tops[gi][bi]) + 7).attr("text-anchor", "middle")
          .attr("font-size", 42).attr("font-weight", "bold").text(stars[gi][bi]);
      }
    });
  });
  const ax = g.append("g").attr("transform", "translate(" + p.axisX + ",0)")
    .call(d3.axisLeft(y).tickValues([0, 50, 100, 150, 200]).tickSize(p.ytick).tickPadding(2));
  styleAxis(ax, 3, 27);
  const xx = g.append("g").attr("transform", "translate(0," + p.y0 + ")")
    .call(d3.axisBottom(gx).tickSize(7).tickFormat(""));
  styleAxis(xx, 3, 1);
  xx.select(".domain").attr("d", "M" + p.axisX + ",0H" + p.end);
  xx.selectAll(".tick line").filter((d, i) => i === 0).attr("y2", p.longTick);
  txt(g, p.ylabX, p.ylabCy, "Proliferation(%)", p.ylabSize, { bold: true, anchor: "middle", rotate: -90 });
  txt(g, p.titleX, 1536, p.title, 35, { bold: true, anchor: "middle" });
  txt(g, p.g0, p.zeroY, "0", 27, { bold: true, anchor: "middle" });
  txt(g, p.lab1X, p.line1Y, "Ven 0.1μM", p.labSize, { anchor: "middle" });
  txt(g, p.lab1X, p.line2Y, "AZD5991 0.1μM", p.labSize, { anchor: "middle" });
  txt(g, p.lab2X, p.line1Y - 1, "Ven 0.1μM", p.labSize, { anchor: "middle" });
  txt(g, p.lab2X, p.line2Y - 1, "AZD5991 1.0μM", p.labSize, { anchor: "middle" });
}
barPanel({ axisX: 133.7, y0: 1961.4, y200: 1582.5, end: 704, g0: 224, g2: 609.2, step: 34.17, bw: 18, ytick: 17, longTick: 17,
  ylabX: 31.6, ylabCy: 1772, ylabSize: 34, titleX: 406.6, title: "OCI-LY3", zeroY: 1999, lab1X: 410, lab2X: 622.4, line1Y: 1992, line2Y: 2021, labSize: 25.7 },
  ociBars, ociTops, ociStars);
barPanel({ axisX: 897.9, y0: 1942.5, y200: 1587, end: 1434.6, g0: 983.2, g2: 1345.2, step: 32, bw: 16.5, ytick: 16, longTick: 16,
  ylabX: 803.7, ylabCy: 1764, ylabSize: 33, titleX: 1132.5, title: "VAL", zeroY: 1977, lab1X: 1158, lab2X: 1356.4, line1Y: 1971, line2Y: 1999, labSize: 24.2 },
  valBars, valTops, valStars);
txt(svg, 12, 1497, "F", 36, { bold: true });
sgNames.forEach((nm, i) => {
  const ly = [1681.8, 1730, 1778, 1826.4, 1874.6][i];
  svg.append("rect").attr("x", 1459).attr("y", ly - 9.5).attr("width", 35).attr("height", 19)
    .attr("fill", barFills[i]).attr("stroke", "#000").attr("stroke-width", 3);
  txt(svg, 1517.5, ly, nm, 27);
});
</script>
</body>
</html>
